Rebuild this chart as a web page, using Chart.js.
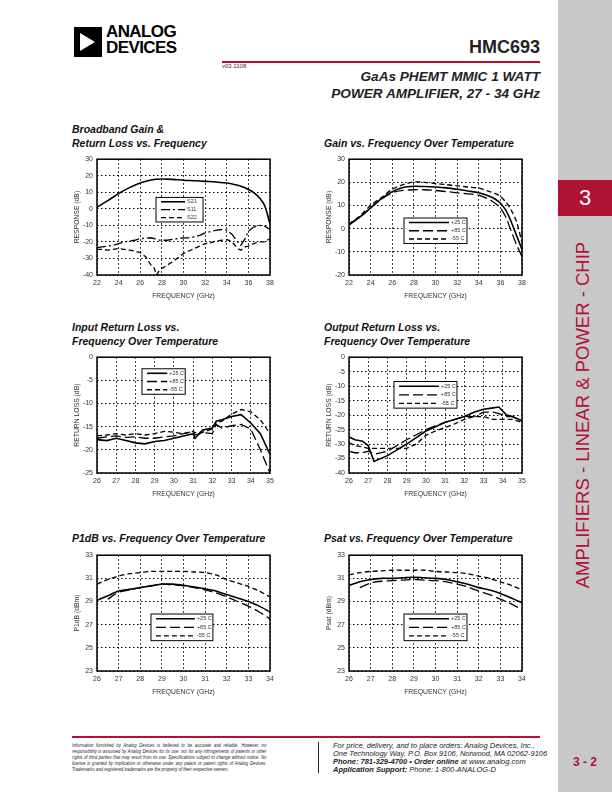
<!DOCTYPE html>
<html>
<head>
<meta charset="utf-8">
<script src="https://cdn.jsdelivr.net/npm/chart.js@4/dist/chart.umd.min.js"></script>
<style>
  body { margin:0; width:612px; height:792px; position:relative; background:#fff; font-family:"Liberation Sans", Arial, sans-serif; color:#222; overflow:hidden; }
  .abs { position:absolute; }
  .ctitle { position:absolute; font-weight:bold; font-style:italic; font-size:10.5px; line-height:14px; color:#111; white-space:nowrap; }
  canvas { position:absolute; }
</style>
</head>
<body>

<!-- side band -->
<div class="abs" style="left:558px;top:0;width:54px;height:792px;background:#c8c8c8;"></div>
<div class="abs" style="left:558px;top:180px;width:54px;height:36px;background:#b01236;color:#fff;font-size:22px;text-align:center;line-height:36px;">3</div>
<div class="abs" style="left:408px;top:405px;width:350px;height:20px;transform-origin:center;transform:rotate(-90deg);color:#b01236;font-size:18.5px;line-height:20px;text-align:center;white-space:nowrap;">AMPLIFIERS - LINEAR &amp; POWER - CHIP</div>

<!-- header -->
<div class="abs" style="left:74px;top:27px;width:28px;height:30px;background:#000;"></div>
<div class="abs" style="left:80px;top:33px;width:0;height:0;border-top:9.5px solid transparent;border-bottom:9.5px solid transparent;border-left:15px solid #fff;"></div>
<div class="abs" style="left:106px;top:24px;font-weight:bold;font-size:17px;line-height:15.5px;letter-spacing:-0.6px;color:#000;">ANALOG<br>DEVICES</div>
<div class="abs" style="right:72px;top:37px;font-weight:bold;font-size:18px;color:#222;">HMC693</div>
<div class="abs" style="left:222px;top:61px;width:318px;height:1.5px;background:#b01236;"></div>
<div class="abs" style="left:222px;top:63px;font-size:6px;color:#333;">v03.1108</div>
<div class="abs" style="right:72px;top:68px;font-weight:bold;font-style:italic;font-size:13.6px;line-height:17px;text-align:right;color:#222;">GaAs PHEMT MMIC 1 WATT<br>POWER AMPLIFIER, 27 - 34 GHz</div>

<!-- chart titles -->
<div class="ctitle" style="left:72px;top:122px;">Broadband Gain &amp;<br>Return Loss vs. Frequency</div>
<div class="ctitle" style="left:324px;top:136px;">Gain vs. Frequency Over Temperature</div>
<div class="ctitle" style="left:72px;top:320px;">Input Return Loss vs.<br>Frequency Over Temperature</div>
<div class="ctitle" style="left:324px;top:320px;">Output Return Loss vs.<br>Frequency Over Temperature</div>
<div class="ctitle" style="left:72px;top:531px;">P1dB vs. Frequency Over Temperature</div>
<div class="ctitle" style="left:324px;top:531px;">Psat vs. Frequency Over Temperature</div>

<canvas id="c1" width="218" height="152" style="left:60px;top:151px;"></canvas>
<canvas id="c2" width="218" height="152" style="left:312px;top:151px;"></canvas>
<canvas id="c3" width="218" height="152" style="left:60px;top:349px;"></canvas>
<canvas id="c4" width="218" height="152" style="left:312px;top:349px;"></canvas>
<canvas id="c5" width="218" height="152" style="left:60px;top:547px;"></canvas>
<canvas id="c6" width="218" height="152" style="left:312px;top:547px;"></canvas>

<!-- footer -->
<div class="abs" style="left:72px;top:736px;width:468px;height:1.5px;background:#b01236;"></div>
<div class="abs" style="left:72px;top:742px;width:240px;font-size:5.3px;line-height:6px;font-style:italic;color:#222;transform:scaleX(0.81);transform-origin:left top;">
  <div style="text-align:justify;text-align-last:justify;">Information furnished by Analog Devices is believed to be accurate and reliable. However, no</div>
  <div style="text-align:justify;text-align-last:justify;">responsibility is assumed by Analog Devices for its use, nor for any infringements of patents or other</div>
  <div style="text-align:justify;text-align-last:justify;">rights of third parties that may result from its use. Specifications subject to change without notice. No</div>
  <div style="text-align:justify;text-align-last:justify;">license is granted by implication or otherwise under any patent or patent rights of Analog Devices.</div>
  <div>Trademarks and registered trademarks are the property of their respective owners.</div>
</div>
<div class="abs" style="left:318px;top:742px;width:1px;height:31px;background:#222;"></div>
<div class="abs" style="left:333px;top:742px;font-size:7.5px;line-height:8px;font-style:italic;color:#222;white-space:nowrap;">
  For price, delivery, and to place orders: Analog Devices, Inc.,<br>
  One Technology Way, P.O. Box 9106, Norwood, MA 02062-9106<br>
  <b>Phone: 781-329-4700 • Order online</b> at www.analog.com<br>
  <b>Application Support:</b> Phone: 1-800-ANALOG-D
</div>
<div class="abs" style="left:558px;top:755px;width:54px;text-align:center;font-weight:bold;font-size:12px;color:#b01236;">3 - 2</div>

<script>
// ---- Broadband gain & return loss ----
const bbGainFreq = [22,23,24,25,26,27,28,29,30,31,32,33,34,35,35.5,36,36.5,37,37.5,38];
const bbS21 = [1,5,9.2,12.8,15.6,17.4,18,17.8,17.3,17,16.6,16.2,15.6,14.2,13.2,11.7,9.8,6.8,2,-9];
const bbRlFreq = [22,22.5,23,23.5,24,24.5,25,25.5,26,26.5,27,27.3,27.5,27.8,28,28.5,29,29.5,30,30.5,31,31.5,32,32.5,33,33.5,34,34.5,35,35.3,35.7,36,36.5,37,37.5,38];
const bbS11 = [-23.5,-23,-22.5,-22,-21,-20,-19.5,-19,-18,-17.8,-17.5,-18,-18.5,-19,-19,-19,-18.5,-18,-17.5,-17.5,-17,-16,-14.5,-13.8,-13,-12.5,-12.8,-15.5,-20,-22,-18,-13.5,-11,-10,-10.5,-12.5];
const bbS22 = [-24.5,-24.5,-25,-24.5,-24,-24.5,-25,-25.5,-26.5,-29,-34,-36,-40,-37,-36,-34,-32,-29.5,-27,-25.5,-24,-22.5,-21,-20.5,-19.5,-19,-18.5,-20,-24,-25,-23,-22.5,-21,-20,-20,-18];

// ---- Gain over temperature ----
const gtFreq = [22,23,24,25,26,27,28,29,30,31,32,33,34,35,35.5,36,36.5,37,37.5,38];
const gt25 = [2,5,9,13,16,17.8,18.3,18.2,18,17.6,17,16.3,15.5,14,12.8,11,8,3,-3,-9];
const gt85 = [1.5,5,9,12.8,15.5,16.5,16.8,16.8,16.5,16,15.5,15,14.5,12.5,11,9,5,-1,-7,-12];
const gt55 = [2,5.5,10,13.5,17,19,20.2,20,19.5,19,18.5,18,17.5,16,15.2,14,11.5,8,3,-6];

// ---- Input return loss ----
const irFreq = [26,26.5,27,27.5,28,28.5,29,29.5,30,30.5,31,31.1,31.5,32,32.2,32.5,33,33.5,34,34.5,35];
const ir25 = [-17.8,-18,-17.5,-18,-18.5,-18.7,-18.2,-18,-17.5,-17,-16.5,-17.5,-15.7,-15.3,-13.8,-13.5,-12.8,-12.4,-14.2,-16.5,-21];
const ir85 = [-17.5,-17.2,-17,-17.3,-17.2,-17.5,-17.5,-17.2,-17,-16.5,-16,-16.8,-16.3,-16.5,-14.5,-15.3,-14.8,-14.5,-15.5,-20,-25];
const ir55 = [-17,-16.8,-16.5,-16.8,-16.5,-16.8,-16.5,-16,-16.2,-16.5,-16,-16.3,-16.2,-15.5,-14.2,-13.8,-12.3,-11.3,-11.8,-13.5,-16.5];

// ---- Output return loss ----
const orFreq = [26,26.3,26.7,27,27.3,28,28.5,29,29.5,30,30.5,31,31.5,32,32.5,33,33.5,33.8,34.2,34.5,35];
const or25 = [-27.5,-28.5,-29,-30.5,-36,-34,-32,-30,-27.8,-25.5,-24,-22.5,-21.5,-20.5,-19,-18,-17.5,-17.2,-20,-20.5,-22];
const or85 = [-32.5,-33,-33,-32.5,-33.5,-32.5,-30.5,-28.5,-26.8,-25,-23.7,-22.5,-21.5,-20.5,-20.5,-19,-19,-19.5,-20.5,-20.5,-22];
const or55 = [-29.5,-30.5,-31,-31.5,-31.5,-31.5,-31.5,-31.5,-30,-27,-25.5,-24.3,-23,-21.5,-20.5,-20.5,-21.5,-21.5,-21.5,-21.5,-22.5];

// ---- P1dB / Psat ----
const pFreq = [26,26.5,27,27.5,28,28.5,29,29.5,30,30.5,31,31.5,32,32.5,33,33.5,34];
const p1db25 = [29.1,29.5,29.9,30.05,30.2,30.35,30.5,30.5,30.4,30.25,30.1,29.9,29.6,29.3,29.0,28.6,28.1];
const p1db85 = [null,29.2,29.8,30.0,30.2,30.35,30.5,30.45,30.35,30.2,30.0,29.75,29.4,29.0,28.6,28.1,27.5];
const p1db55 = [30.5,30.9,31.2,31.4,31.5,31.6,31.6,31.6,31.6,31.55,31.5,31.3,30.9,30.6,30.3,29.9,29.4];
const psat25 = [30.4,30.7,30.9,31.0,31.0,31.05,31.1,31.05,31.0,30.9,30.7,30.5,30.2,30.0,29.7,29.3,28.9];
const psat85 = [null,30.2,30.6,30.75,30.8,30.85,30.9,30.85,30.8,30.7,30.5,30.25,29.9,29.6,29.2,28.8,28.3];
const psat55 = [31.3,31.5,31.6,31.65,31.7,31.7,31.7,31.7,31.6,31.55,31.5,31.4,31.2,31.0,30.7,30.4,30.0];

const tempLabels = ['+25 C', '+85 C', '-55 C'];

Chart.defaults.font.family = '"Liberation Sans", Arial, sans-serif';
Chart.defaults.color = '#333';

const SOLID = [], LONG = [10, 4], SHORT = [5, 3], DASHDOT = [9, 3, 2, 3];

function series(label, xs, ys, dash, smooth) {
  return {
    label: label,
    data: xs.map((x, i) => ({x: x, y: ys[i]})),
    borderColor: '#000',
    borderWidth: dash.length ? 1.3 : 1.6,
    borderDash: dash,
    pointRadius: 0,
    tension: smooth ? 0.3 : 0,
    fill: false
  };
}

// draws the solid plot frame and the boxed key inside the plot
const frameKey = {
  id: 'frameKey',
  afterDatasetsDraw(chart, args, opts) {
    const {ctx, chartArea: a} = chart;
    const W = a.right - a.left, H = a.bottom - a.top;
    const b = opts.box;
    const x = a.left + b[0] * W, y = a.top + b[1] * H, w = b[2] * W, h = b[3] * H;
    ctx.save();
    ctx.fillStyle = '#fff';
    ctx.fillRect(x, y, w, h);
    ctx.strokeStyle = '#000';
    ctx.lineWidth = 1;
    ctx.strokeRect(x, y, w, h);
    const n = chart.data.datasets.length;
    ctx.font = '5.5px "Liberation Sans", Arial, sans-serif';
    ctx.textBaseline = 'middle';
    chart.data.datasets.forEach((ds, i) => {
      const ry = y + h * (i + 0.55) / (n + 0.1);
      ctx.beginPath();
      ctx.setLineDash(ds.borderDash);
      ctx.lineWidth = ds.borderWidth;
      ctx.moveTo(x + 5, ry);
      ctx.lineTo(x + w - 18, ry);
      ctx.stroke();
      ctx.setLineDash([]);
      ctx.fillStyle = '#333';
      ctx.fillText(ds.label, x + w - 16, ry);
    });
    ctx.lineWidth = 1.5;
    ctx.strokeRect(a.left, a.top, W, H);
    ctx.restore();
  }
};

function axis(min, max, step, title, isY) {
  return {
    type: 'linear', min: min, max: max,
    ticks: {stepSize: step, font: {size: 7}, color: '#333', padding: 4, maxRotation: 0, autoSkip: false},
    grid: {color: '#000', lineWidth: 1, drawTicks: false},
    border: {display: false, dash: [1.5, 2.5]},
    title: {display: true, text: title, font: {size: 6.8}, color: '#333',
            padding: isY ? {top: 13, bottom: 0} : {top: 0, bottom: 3}},
    afterFit: isY ? (s => { s.width = 37; }) : (s => { s.height = 28; })
  };
}

function makeChart(id, datasets, xr, yr, yTitle, box) {
  new Chart(document.getElementById(id), {
    type: 'line',
    data: {datasets: datasets},
    options: {
      responsive: false,
      animation: false,
      layout: {padding: {top: 6, right: 8, left: 0, bottom: 0}},
      plugins: {legend: {display: false}, tooltip: {enabled: false}, frameKey: {box: box}},
      scales: {
        x: axis(xr[0], xr[1], xr[2], 'FREQUENCY (GHz)', false),
        y: axis(yr[0], yr[1], yr[2], yTitle, true)
      }
    },
    plugins: [frameKey]
  });
}

makeChart('c1', [
  series('S21', bbGainFreq, bbS21, SOLID, true),
  series('S11', bbRlFreq, bbS11, DASHDOT, false),
  series('S22', bbRlFreq, bbS22, SHORT, false)
], [22, 38, 2], [-40, 30, 10], 'RESPONSE (dB)', [0.341, 0.33, 0.272, 0.212]);

makeChart('c2', [
  series(tempLabels[0], gtFreq, gt25, SOLID, true),
  series(tempLabels[1], gtFreq, gt85, LONG, true),
  series(tempLabels[2], gtFreq, gt55, SHORT, true)
], [22, 38, 2], [-20, 30, 10], 'RESPONSE (dB)', [0.318, 0.508, 0.364, 0.22]);

makeChart('c3', [
  series(tempLabels[0], irFreq, ir25, SOLID, false),
  series(tempLabels[1], irFreq, ir85, LONG, false),
  series(tempLabels[2], irFreq, ir55, SHORT, false)
], [26, 35, 1], [-25, 0, 5], 'RETURN LOSS (dB)', [0.26, 0.10, 0.25, 0.22]);

makeChart('c4', [
  series(tempLabels[0], orFreq, or25, SOLID, false),
  series(tempLabels[1], orFreq, or85, LONG, false),
  series(tempLabels[2], orFreq, or55, SHORT, false)
], [26, 35, 1], [-40, 0, 5], 'RETURN LOSS (dB)', [0.26, 0.21, 0.364, 0.23]);

makeChart('c5', [
  series(tempLabels[0], pFreq, p1db25, SOLID, true),
  series(tempLabels[1], pFreq, p1db85, LONG, true),
  series(tempLabels[2], pFreq, p1db55, SHORT, true)
], [26, 34, 1], [23, 33, 2], 'P1dB (dBm)', [0.312, 0.508, 0.358, 0.23]);

makeChart('c6', [
  series(tempLabels[0], pFreq, psat25, SOLID, true),
  series(tempLabels[1], pFreq, psat85, LONG, true),
  series(tempLabels[2], pFreq, psat55, SHORT, true)
], [26, 34, 1], [23, 33, 2], 'Psat (dBm)', [0.318, 0.508, 0.364, 0.23]);
</script>
</body>
</html>
